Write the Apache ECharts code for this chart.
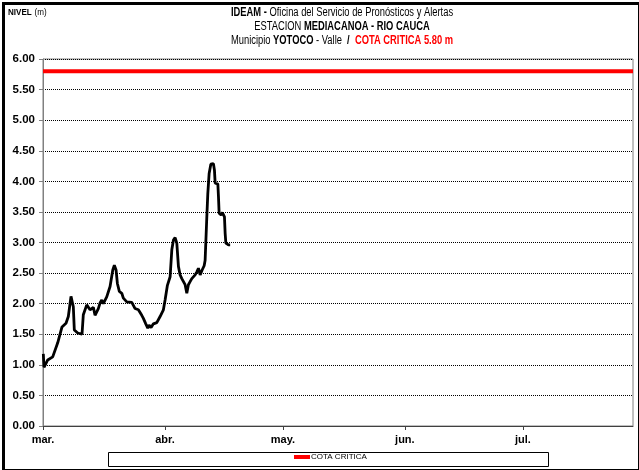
<!DOCTYPE html>
<html>
<head>
<meta charset="utf-8">
<script src="https://cdn.jsdelivr.net/npm/echarts@6/dist/echarts.min.js"></script>
<style>
html,body{margin:0;padding:0;background:#fff;}
#chart{width:639px;height:470px;}
</style>
</head>
<body>
<div id="chart"></div>
<script>
// Day offsets counted from 1 March (fractional = several readings per day)
const days = [0.08,0.25,1.2,2.47,3.74,4.83,5.85,6.44,7.12,7.71,7.96,8.83,9.92,10.25,11.12,11.96,12.8,13.23,14.07,14.5,14.94,15.34,16.2,17.05,17.74,18.14,18.58,18.91,19.41,20.03,20.43,20.87,21.3,21.7,22.57,23.41,24.25,25.11,25.52,26.13,26.64,26.97,27.48,28.07,28.93,29.77,30.61,31.04,31.63,32.32,32.75,33.16,33.59,34.02,34.43,34.86,35.29,35.7,36.13,36.56,36.97,37.4,37.83,38.24,38.68,39.11,39.52,39.95,40.46,40.97,41.22,41.65,41.9,42.24,42.67,43.33,43.59,43.77,44.45,44.61,44.78,45.29,45.62,46.13,46.31,46.49,47.15,47.58];
const levels = [1.18,0.96,1.08,1.13,1.36,1.62,1.68,1.79,2.12,1.95,1.57,1.52,1.50,1.82,1.98,1.90,1.94,1.81,1.92,2.01,2.06,2.00,2.11,2.28,2.55,2.63,2.55,2.33,2.20,2.17,2.09,2.11,2.03,2.06,2.02,1.92,1.90,1.81,1.76,1.67,1.60,1.65,1.61,1.67,1.69,1.79,1.90,2.06,2.30,2.44,2.88,3.04,3.08,2.99,2.61,2.47,2.41,2.44,2.31,2.17,2.31,2.36,2.41,2.39,2.47,2.52,2.58,2.47,2.55,2.62,2.71,3.42,3.80,4.13,4.28,4.29,4.18,3.97,3.96,3.75,3.48,3.45,3.49,3.42,3.15,2.99,2.96,2.96];
const cotaCritica = 5.80;
const axisDays = [0, 150];              // 1 March .. 29 July
const monthStarts = [0, 31, 61, 92, 122];
const monthLabels = ['mar.', 'abr.', 'may.', 'jun.', 'jul.'];
const yTicks = [0,0.5,1,1.5,2,2.5,3,3.5,4,4.5,5,5.5,6];
const titleLines = [
  '{b|IDEAM -} {n|Oficina del Servicio de Pronósticos y Alertas}',
  '{n|ESTACION }{b|MEDIACANOA - RIO CAUCA}',
  '{n|Municipio }{b|YOTOCO}{n| - Valle }{b| /  }{r|COTA CRITICA 5.80 m}'
];

const FONT = '"Liberation Sans Narrow","Arial Narrow","Liberation Sans",Arial,sans-serif';
const chart = echarts.init(document.getElementById('chart'), null, {renderer:'canvas'});

const levelData = days.map((d, i) => [d, levels[i]]);
const cotaData = axisDays.map(d => [d, cotaCritica]);

const titleRich = {
  b: {fontFamily: FONT, fontWeight: 'bold', fontSize: 12, fill: '#000'},
  n: {fontFamily: FONT, fontWeight: 'normal', fontSize: 12, fill: '#000'},
  r: {fontFamily: FONT, fontWeight: 'bold', fontSize: 12, fill: '#ff0000'}
};
const titleGraphics = titleLines.map((t, i) => ({
  type: 'text', x: 342, y: 13 + i * 14, scaleX: 0.78, z: 10,
  style: {text: t, rich: titleRich, align: 'center', verticalAlign: 'middle'}
}));

chart.setOption({
  animation: false,
  backgroundColor: '#fff',
  textStyle: {fontFamily: FONT},
  graphic: [
    {type: 'rect', left: 1, top: 1, shape: {width: 636, height: 467}, style: {fill: 'none', stroke: '#000', lineWidth: 3}, z: 100},
    {type: 'rect', left: 108, top: 452, shape: {width: 440, height: 14}, style: {fill: '#fff', stroke: '#000', lineWidth: 1}, z: 1},
    {type: 'text', x: 8, y: 12, scaleX: 0.85, style: {verticalAlign: 'middle', rich: {b:{fontFamily: FONT, fontWeight:'bold', fontSize: 9.5, fill:'#000'}, n:{fontFamily: FONT, fontSize: 9.5, fill:'#000'}}, text: '{b|NIVEL} {n|(m)}'}}
  ].concat(titleGraphics),
  legend: {
    data: ['COTA CRITICA'],
    left: 294, top: 453,
    itemWidth: 16, itemHeight: 4, itemGap: 4,
    padding: 0,
    z: 5,
    icon: 'rect',
    textStyle: {fontFamily: FONT, fontSize: 8, color: '#000', padding: [0,0,0,-4]}
  },
  grid: {left: 43, right: 6, top: 59, bottom: 44, show: true, borderColor: '#808080', borderWidth: 1, backgroundColor: '#fff'},
  xAxis: {
    type: 'value', min: axisDays[0], max: axisDays[1],
    axisLine: {lineStyle: {color: '#404040', width: 1}},
    axisTick: {show: true, length: 4, inside: false, customValues: monthStarts, lineStyle: {color: '#404040'}},
    axisLabel: {
      customValues: monthStarts, margin: 8,
      fontFamily: FONT, fontWeight: 'bold', fontSize: 11, color: '#000',
      formatter: v => { const i = monthStarts.indexOf(Math.round(v)); return i >= 0 ? monthLabels[i] : ''; }
    },
    splitLine: {show: false}
  },
  yAxis: {
    type: 'value', min: 0, max: 6, interval: 0.5,
    axisLine: {show: true, lineStyle: {color: '#808080', width: 1}},
    axisTick: {show: true, length: 4, inside: false, lineStyle: {color: '#808080'}},
    axisLabel: {
      margin: 8, fontFamily: FONT, fontWeight: 'bold', fontSize: 11.5, color: '#000',
      formatter: v => yTicks.indexOf(v) >= 0 ? v.toFixed(2) : ''
    },
    splitLine: {show: true, lineStyle: {color: '#000', width: 1, type: [1, 1]}}
  },
  series: [
    {
      name: 'NIVEL', type: 'line', data: levelData, showSymbol: false, symbol: 'none',
      lineStyle: {color: '#000', width: 2.8}, itemStyle: {color: '#000'}, z: 4
    },
    {
      name: 'COTA CRITICA', type: 'line', data: cotaData, showSymbol: false, symbol: 'none',
      lineStyle: {color: '#ff0000', width: 4}, itemStyle: {color: '#ff0000'}, z: 3
    }
  ]
});
</script>
</body>
</html>
